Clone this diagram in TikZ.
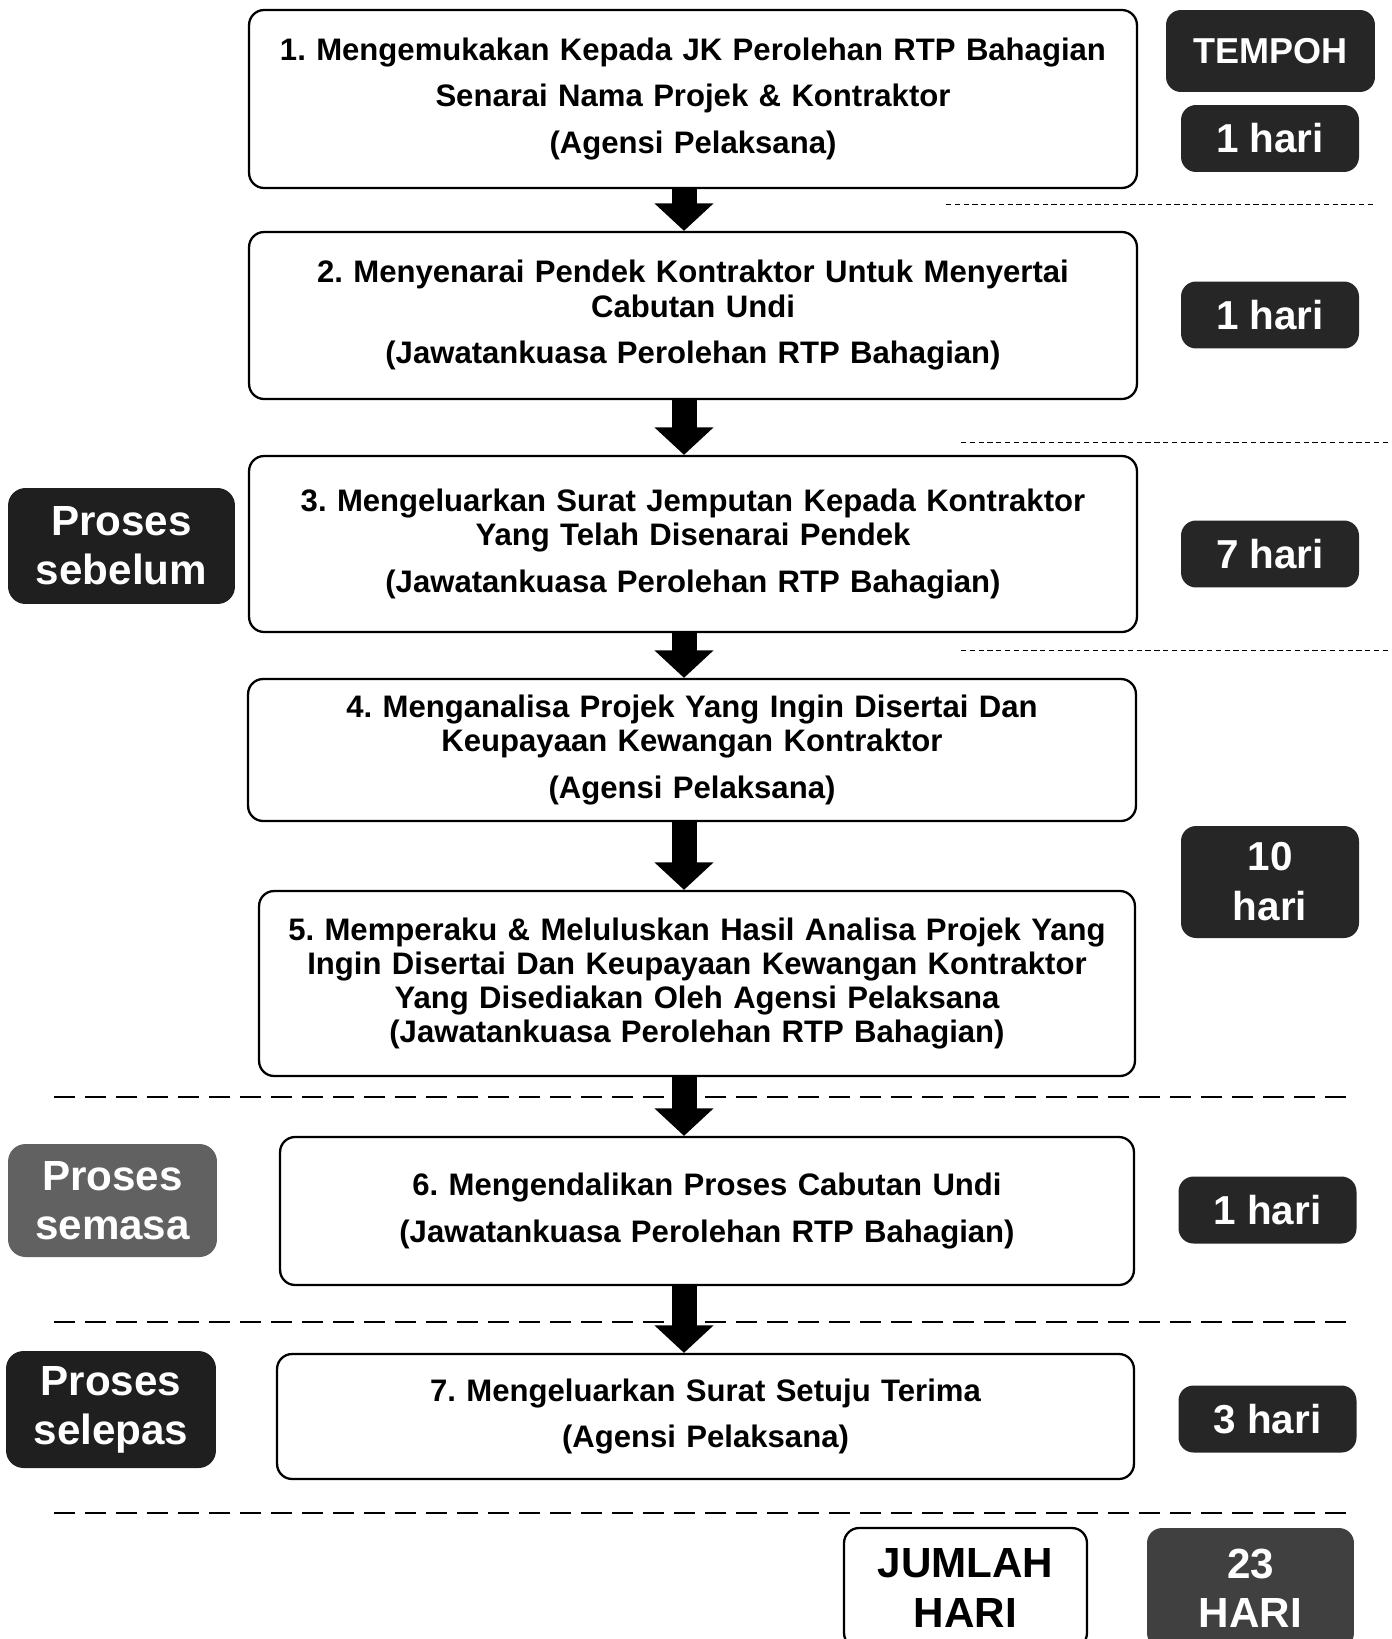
\documentclass[tikz,border=0pt]{standalone}
\usepackage{fontspec}
\setmainfont{Liberation Sans}
\usetikzlibrary{
  positioning,
  calc,
  arrows.meta
}
\frenchspacing

\begin{document}
\begin{tikzpicture}[
      x=0.02cm, y=-0.02cm,
      stepnode/.style={rectangle, draw, line width=1.3pt, rounded corners=0.3cm, fill=white, text width=16.9cm, inner xsep=0.05cm, inner ysep=0.2cm, align=center, font=\bfseries\fontsize{17.7}{19.5}\selectfont},
      timenode/.style={rectangle, rounded corners=0.3cm, fill=black!85, text=white, align=center, minimum width=3.56cm, minimum height=1.34cm, font=\bfseries\fontsize{23}{28.5}\selectfont},
      phasenode/.style={rectangle, rounded corners=0.35cm, fill=black!88, text=white, align=center, font=\bfseries\fontsize{24}{28}\selectfont},
      arrow/.style={-{Triangle[width=1.15cm,length=0.55cm]}, line width=0.5cm},
      divider/.style={dash pattern=on 0.42cm off 0.2cm, line width=1.6pt},
      thindivider/.style={densely dashed, line width=0.5pt}
    ]
      \clip (0,0) rectangle (1392,1639);

      % Dividers
      \draw[thindivider] (946,204) -- (1374,204);
      \draw[thindivider] (961,442) -- (1390,442);
      \draw[thindivider] (961,650) -- (1390,650);
      \draw[divider] (54,1097) -- (1350,1097);
      \draw[divider] (54,1322) -- (1350,1322);
      \draw[divider] (54,1513) -- (1350,1513);

      % Steps
      \node[stepnode, minimum width=17.76cm, minimum height=3.56cm] (step1) at (693,99) {1. Mengemukakan Kepada JK Perolehan RTP Bahagian\\[0.25cm] Senarai Nama Projek \& Kontraktor\\[0.25cm] (Agensi Pelaksana)};
      \node[stepnode, minimum width=17.76cm, minimum height=3.34cm] (step2) at (693,315.5) {2. Menyenarai Pendek Kontraktor Untuk Menyertai\\ Cabutan Undi\\[0.25cm] (Jawatankuasa Perolehan RTP Bahagian)};
      \node[stepnode, minimum width=17.76cm, minimum height=3.52cm] (step3) at (693,544) {3. Mengeluarkan Surat Jemputan Kepada Kontraktor\\ Yang Telah Disenarai Pendek\\[0.25cm] (Jawatankuasa Perolehan RTP Bahagian)};
      \node[stepnode, minimum width=17.76cm, minimum height=2.84cm] (step4) at (692,750) {4. Menganalisa Projek Yang Ingin Disertai Dan\\ Keupayaan Kewangan Kontraktor\\[0.25cm] (Agensi Pelaksana)};
      \node[stepnode, minimum width=17.52cm, minimum height=3.7cm] (step5) at (697,983.5) {5. Memperaku \& Meluluskan Hasil Analisa Projek Yang\\ Ingin Disertai Dan Keupayaan Kewangan Kontraktor\\ Yang Disediakan Oleh Agensi Pelaksana\\ (Jawatankuasa Perolehan RTP Bahagian)};
      \node[stepnode, minimum width=17.08cm, minimum height=2.96cm] (step6) at (707,1211) {6. Mengendalikan Proses Cabutan Undi\\[0.25cm] (Jawatankuasa Perolehan RTP Bahagian)};
      \node[stepnode, minimum width=17.14cm, minimum height=2.5cm] (step7) at (705.5,1416.5) {7. Mengeluarkan Surat Setuju Terima\\[0.25cm] (Agensi Pelaksana)};

      % Arrows
      \coordinate (axis) at (684,0);
      \draw[arrow] (step1.south -| axis) -- (step2.north -| axis);
      \draw[arrow] (step2.south -| axis) -- (step3.north -| axis);
      \draw[arrow] (step3.south -| axis) -- (step4.north -| axis);
      \draw[arrow] (step4.south -| axis) -- (step5.north -| axis);
      \draw[arrow] (step5.south -| axis) -- (step6.north -| axis);
      \draw[arrow] (step6.south -| axis) -- (step7.north -| axis);

      % Durations
      \node[timenode, minimum width=4.18cm, minimum height=1.64cm, font=\bfseries\fontsize{20.5}{24}\selectfont] (tempoh) at (1270.5,51) {TEMPOH};
      \node[timenode] (time1) at (1270,138.5) {1 hari};
      \node[timenode] (time2) at (1270,315) {1 hari};
      \node[timenode] (time3) at (1270,554) {7 hari};
      \node[timenode, minimum height=2.24cm] (time45) at (1270,882) {10\\hari};
      \node[timenode] (time6) at (1267.5,1210) {1 hari};
      \node[timenode] (time7) at (1267.5,1419) {3 hari};

      % Phases
      \node[phasenode, minimum width=4.54cm, minimum height=2.32cm] (sebelum) at (121.5,546) {Proses\\sebelum};
      \node[phasenode, fill=black!62, minimum width=4.18cm, minimum height=2.26cm] (semasa) at (112.5,1200.5) {Proses\\semasa};
      \node[phasenode, minimum width=4.2cm, minimum height=2.34cm] (selepas) at (111,1409.5) {Proses\\selepas};

      % Total
      \node[stepnode, text width=4.76cm, minimum height=2.4cm, font=\bfseries\fontsize{24}{28}\selectfont] (jumlah) at (965.5,1588) {JUMLAH\\HARI};
      \node[timenode, fill=black!75, minimum width=4.14cm, minimum height=2.4cm, font=\bfseries\fontsize{24}{28}\selectfont] (total) at (1250.5,1588) {23\\HARI};
    \end{tikzpicture}
\end{document}
